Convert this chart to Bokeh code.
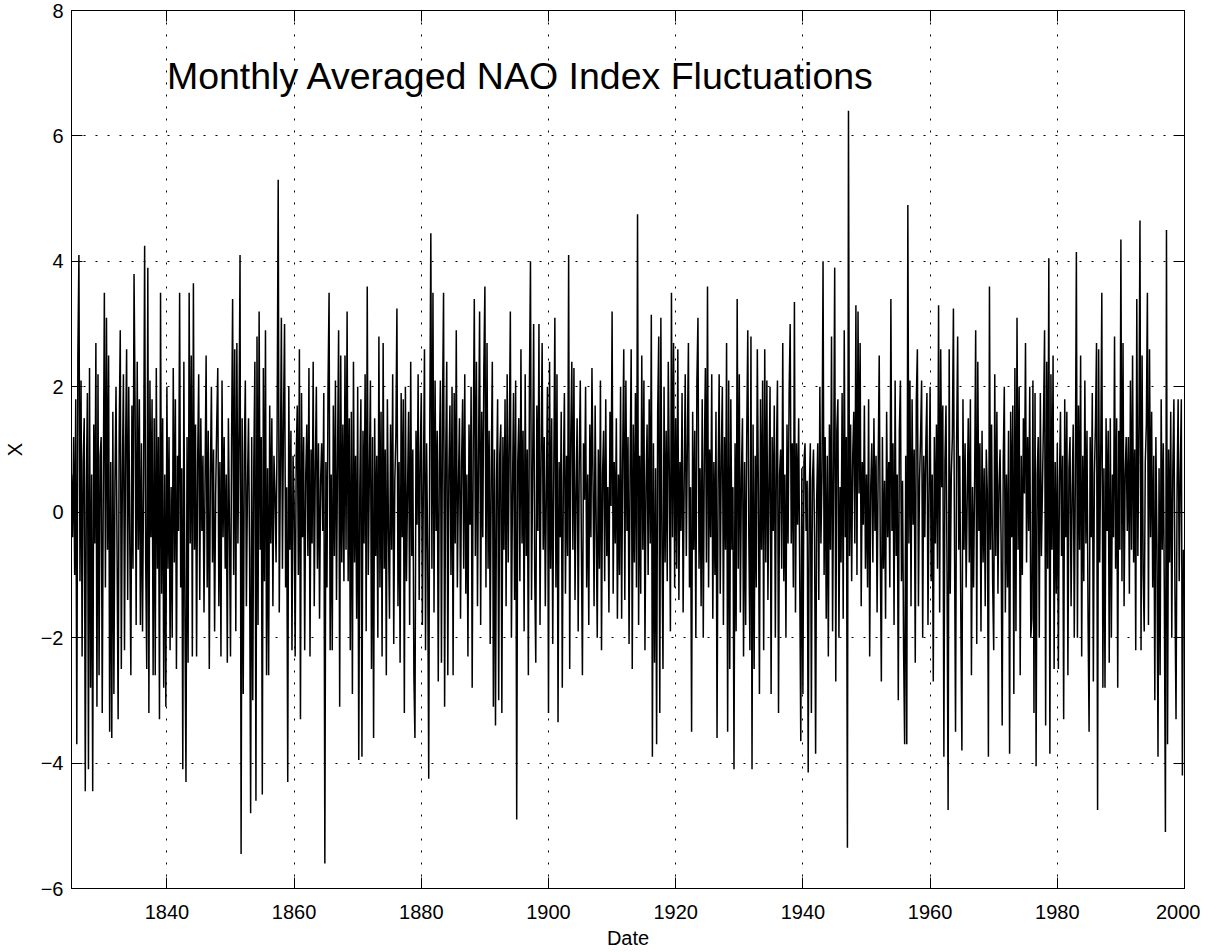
from bokeh.plotting import figure
from bokeh.models import LinearAxis, FixedTicker, Label, ColumnDataSource, Range1d
from bokeh.embed import file_html
from bokeh.resources import INLINE

# Monthly averaged NAO index (6 samples per year)
nao_1825 = [0.6, -0.4, 1.2, -1.0, 1.8, -3.7,
            2.5, 4.1, -1.1, 2.1, -2.3, 0.8,
            1.5, -4.45, 0.4, 1.9, -4.1, 2.3,
            -2.8, 0.6, -4.45, 1.4, -0.5, 2.7,
            -3.1, 2.2, -2.6, 0.9, 1.2, -3.2,
            0.4, 3.5, -1.2, 3.1, -0.6, 2.5,
            -3.5, 0.8, -3.6, 1.6, -2.9, 0.5,
            2.0, -0.7, -3.3, 1.3, 2.9, -2.5,
            0.6, 2.2, -2.2, 1.0, 2.6, -1.4,
            2.0, -0.5, -2.6, 1.7, -0.9, 3.8]
nao_1835 = [1.7, -1.8, 2.4, -0.6, 1.8, -1.8,
            1.1, -1.9, 0.5, 4.25, -0.8, -2.5,
            3.9, -3.2, 2.1, -0.4, 1.8, -2.6,
            1.5, -2.6, 2.3, -0.9, 1.2, -3.3,
            3.5, -1.3, 1.5, -2.8, 0.6, -3.1,
            2.0, -0.9, 1.2, -2.2, 0.4, -2.0,
            2.3, -0.8, 1.8, -2.5, 0.9, -0.3,
            3.5, -1.2, 0.7, -4.1, 2.4, -1.6,
            -4.3, 1.2, -2.4, 3.5, -0.5, 2.5,
            -2.3, 3.65, -0.6, 1.4, -2.3, 0.8]
nao_1845 = [2.2, -1.4, 1.5, -0.3, 0.9, -1.6,
            0.5, 2.5, -1.2, 1.3, -2.5, 0.6,
            2.0, -0.8, 1.0, -1.9, 0.3, 1.4,
            2.3, -1.5, 0.8, -2.3, 2.1, -0.4,
            1.2, -0.9, 0.6, -2.4, 1.5, -0.2,
            -2.3, 1.1, 3.4, -1.0, 2.6, -1.9,
            2.7, -0.5, 1.3, 4.1, -5.45, 1.5,
            -2.9, 0.9, 2.1, -1.5, 0.4, 1.5,
            -0.7, -4.8, 1.2, -3.0, 0.8, 2.4,
            -4.6, 2.8, -1.8, 3.2, -0.6, 1.2]
nao_1855 = [-4.5, 2.3, -1.1, 2.9, -2.6, 0.7,
            -2.6, 1.7, -0.5, 1.5, -1.5, 0.9,
            0.3, -0.8, 1.4, 5.3, -1.6, 0.6,
            3.1, -0.9, 1.5, 3.0, -1.2, 0.4,
            -4.3, 2.0, -0.6, 1.3, -2.2, 0.9,
            0.2, -2.3, 0.9, 1.7, -1.0, 2.6,
            -3.3, 1.9, -0.4, 1.2, -2.2, 0.6,
            1.4, -0.7, 2.3, -2.3, 1.0, -0.5,
            2.4, -1.5, 0.7, 2.0, -0.9, 1.1,
            -1.7, 0.5, 1.1, -0.3, 1.9, -5.6]
nao_1865 = [0.8, -1.2, 2.0, 3.5, -2.2, 0.6,
            -2.2, 1.7, -0.7, 2.1, -1.4, 0.9,
            2.9, -3.1, 2.5, -0.8, 1.4, -1.1,
            2.5, -0.6, 3.2, -1.1, 1.5, -2.2,
            1.6, -2.9, 2.4, -0.8, 0.9, -1.7,
            2.0, -3.95, 0.4, 1.8, -3.9, 1.3,
            -0.5, 2.2, -1.9, 3.6, -1.0, 0.6,
            2.1, -2.5, 1.2, -3.6, 1.5, -0.7,
            0.9, -2.0, 2.8, -1.2, 1.6, -2.3,
            2.7, -0.9, 1.0, -2.6, 1.8, -0.3]
nao_1875 = [-1.7, 1.4, -0.6, 2.2, -2.1, 0.5,
            1.2, 3.25, -1.5, 0.8, -2.4, 1.9,
            -0.4, 1.8, -3.2, 2.0, -1.1, 0.3,
            1.6, -1.8, 2.4, -0.7, 1.0, -2.6,
            -3.6, 1.3, -0.2, 2.2, -1.4, 0.9,
            1.9, -1.8, 0.5, 2.6, -2.2, 1.1,
            -0.6, -4.25, 1.4, 4.45, -0.9, 3.5,
            -1.6, 2.1, -0.3, 1.3, -2.7, 0.8,
            2.1, -2.4, 1.6, 3.5, -3.1, 0.8,
            2.4, -2.6, 0.6, 1.7, -1.0, 2.0]
nao_1885 = [-2.6, 1.9, -0.5, 2.9, -1.2, 0.4,
            1.5, -1.7, 0.8, 1.8, -0.9, 2.2,
            -1.3, 0.6, -2.3, 1.4, -0.2, 2.0,
            -2.8, 1.1, 3.4, -0.7, 2.4, -1.5,
            0.9, 3.2, -1.8, 1.6, -0.4, 2.3,
            3.6, -1.2, 2.7, -0.9, 1.3, -2.1,
            0.7, 2.4, -3.1, 1.0, -3.4, 0.5,
            1.8, -3.0, 0.9, 1.4, -3.2, 1.2,
            -0.6, 1.8, -1.5, 2.2, -0.8, 1.1,
            3.2, -2.0, 0.3, 1.9, -1.4, 2.1]
nao_1895 = [-4.9, 0.8, 1.5, -1.1, 2.6, -0.5,
            1.3, -1.9, 2.2, -0.7, 1.0, -2.6,
            2.0, 4.0, -1.4, 0.6, 3.0, -1.0,
            -2.4, 1.7, -0.3, 3.0, -1.8, 0.9,
            2.7, -0.6, 1.2, -1.5, 0.4, 2.0,
            -3.2, 2.4, -0.9, 1.5, -2.1, 0.7,
            3.1, -1.2, 2.2, -3.35, 0.8, -0.4,
            1.6, -2.8, 0.5, 1.9, -1.3, 0.9,
            -0.7, 4.1, -2.5, 1.2, 2.4, -0.6,
            2.3, -1.4, 0.3, 1.5, -1.9, 0.8]
nao_1905 = [2.1, -0.5, -2.6, 1.1, 0.2, 2.0,
            -1.2, 0.6, -1.8, 1.4, -0.4, 2.3,
            0.5, -1.5, 1.7, -0.2, -2.0, 1.0,
            -0.9, 2.1, -2.2, 0.6, 1.3, -1.1,
            1.8, -0.7, 0.4, -1.6, 1.6, 0.1,
            3.2, -1.3, 0.8, -0.5, 1.5, -1.7,
            0.6, -1.0, 2.0, -1.7, 0.9, 2.6,
            -1.4, 2.1, -0.3, 1.2, -2.1, 0.7,
            2.6, -2.5, 1.4, -0.8, 1.9, -1.2,
            4.75, -1.8, 0.9, -1.3, 2.5, -0.6]
nao_1915 = [2.1, -2.2, 0.4, 1.4, -1.0, 1.8,
            -0.5, 3.15, -3.9, 1.1, -2.4, 0.7,
            -3.7, 1.6, 2.8, -3.2, 3.1, -0.4,
            -2.5, 2.0, -0.8, 1.3, -1.1, 2.4,
            0.6, -1.9, 3.5, -0.4, 2.7, -1.2,
            1.5, -0.9, 2.6, -1.4, 0.8, -0.3,
            1.9, -1.6, 0.5, 2.2, -0.7, 1.1,
            2.7, -1.2, 0.4, -3.5, 1.6, -0.6,
            1.3, -2.0, 2.1, 3.1, -0.9, 0.7,
            -1.5, 1.8, -2.0, 0.9, 2.3, -0.8]
nao_1925 = [3.6, -1.2, 1.0, -0.4, 2.2, -1.7,
            0.8, -1.0, 1.6, -3.6, 0.5, 2.2,
            -1.3, 0.9, 2.0, -1.8, 1.2, -0.6,
            2.7, -3.5, 2.1, -2.5, 1.8, -0.6,
            0.4, -4.1, 1.1, -1.9, 3.4, -0.9,
            2.2, -1.6, 0.6, 1.5, -2.3, 0.8,
            -1.8, 1.2, 2.9, -0.4, -2.2, 2.8,
            -4.1, 1.4, -2.5, 0.9, -1.2, 2.6,
            0.3, -2.9, 1.8, -0.6, 2.1, -2.2,
            2.6, -0.8, 2.1, -1.4, 0.5, 2.0]
nao_1935 = [-2.9, 1.2, -0.3, 1.7, -2.0, 0.9,
            2.1, -3.2, 0.6, 1.0, -0.9, 2.7,
            -1.1, 0.6, -2.0, 1.4, -0.5, 1.9,
            3.0, -0.5, 1.1, -1.2, 3.35, -1.6,
            1.1, -0.2, 1.5, -1.0, -3.65, 0.7,
            -2.9, 0.8, 1.1, -0.3, 0.5, -4.15,
            0.3, 1.1, -3.2, 0.5, 1.0, -0.4,
            -3.85, 0.2, 1.1, -1.4, 2.0, -0.5,
            0.6, 4.0, -1.0, 1.2, -1.7, 0.9,
            -2.3, 1.4, -0.6, 2.8, -1.9, 0.7]
nao_1945 = [3.9, -2.7, 1.3, 1.8, -2.0, 0.4,
            -0.8, 1.9, -1.7, 2.9, -0.4, 1.2,
            -5.35, 6.4, -0.7, 1.4, -1.1, 0.9,
            1.6, -0.5, 3.3, -1.0, 3.2, 0.3,
            2.7, -1.5, 0.8, -0.2, 1.7, -0.9,
            0.6, -1.2, 1.8, -2.3, 0.4, 1.1,
            -0.8, 1.5, -0.3, 0.9, -1.6, 0.7,
            2.5, -0.6, -2.7, 1.2, -0.9, 0.5,
            -1.7, 1.6, -0.4, 0.8, -1.2, 3.4,
            -0.3, 1.1, -1.8, 2.1, -0.7, 0.6]
nao_1955 = [-3.0, 1.3, 2.1, -1.1, 0.5, -2.2,
            -3.7, 0.9, -3.7, 4.9, -0.5, 2.1,
            -1.5, 1.8, -0.2, 1.0, -2.4, 1.8,
            2.6, -1.5, 0.5, 1.2, 2.1, -2.0,
            0.9, -0.4, 1.1, 1.9, -1.8, 0.3,
            2.0, -1.1, 0.6, -2.7, 1.2, -0.5,
            1.4, -0.9, 3.3, -1.6, 2.6, 0.4,
            1.7, -3.9, 0.8, 1.7, -1.0, -4.75,
            2.6, -1.3, 0.6, 1.2, 3.25, -0.4,
            -3.5, 1.1, 2.8, -0.6, 0.9, -1.7]
nao_1965 = [-3.8, 1.8, -0.6, 1.1, -1.2, 0.2,
            1.5, -0.8, 1.8, -2.6, 0.4, -1.2,
            0.5, 2.9, -2.1, 2.4, -0.3, 1.1,
            -1.9, 1.3, -0.8, 0.7, -1.5, 1.0,
            0.3, -3.9, 3.6, -0.6, 1.4, -1.1,
            -2.2, 2.2, -0.7, 1.6, -1.3, 0.4,
            1.0, -0.5, -3.4, 0.8, 2.0, -1.6,
            0.6, -1.2, 1.3, -3.85, 1.6, -0.4,
            1.7, -2.9, 2.3, -1.9, 3.1, -0.6,
            2.0, -2.6, 0.9, -1.0, 1.5, 0.3]
nao_1975 = [2.7, -0.8, 1.2, -0.3, 2.0, -2.0,
            -1.7, 2.1, -3.2, 1.9, -4.05, 0.6,
            1.2, -2.0, 1.9, -0.7, 0.4, 1.5,
            2.9, -3.4, 2.4, -0.9, 4.05, -3.85,
            2.2, -0.6, 2.5, -2.5, 0.8, -1.3,
            1.1, -2.5, 0.5, 1.6, -0.7, 0.9,
            -3.3, 1.8, -0.4, 1.6, -2.6, 0.7,
            1.2, -1.5, 0.3, 1.4, -2.0, 0.5,
            4.15, -2.0, 1.7, -0.6, 2.5, -2.3,
            0.9, -1.1, 2.1, -0.5, 1.3, -1.7]
nao_1985 = [-3.5, 1.2, -0.4, 1.9, -2.7, 0.6,
            1.4, 2.7, -4.75, 2.6, -0.8, 1.0,
            3.5, -2.8, 0.7, -2.8, 1.5, -0.3,
            1.3, -2.4, 1.5, -2.0, 0.6, -0.4,
            2.8, -0.9, 1.5, -2.8, 1.3, -0.6,
            4.35, -1.1, 2.7, -1.5, 0.6, 1.2,
            -0.3, 1.2, -1.3, 2.1, -0.6, 2.5,
            -0.8, 1.0, -2.2, 3.4, -0.7, 1.3,
            4.65, -2.2, 2.5, -1.0, -1.9, 0.8,
            1.4, 3.5, -1.8, 2.6, -0.4, 1.6]
nao_1995 = [-1.2, 0.9, -3.0, 1.2, -0.5, -3.9,
            0.7, -2.6, 1.8, -0.6, 1.1, -1.4,
            -5.1, 4.5, -3.7, 1.0, -0.8, 1.6,
            -2.0, 0.7, 1.8, -1.3, -3.3, 0.4,
            1.8, -1.1, 0.6, 1.8, -4.2, -0.6]

decade_starts = [1825, 1835, 1845, 1855, 1865, 1875, 1885, 1895, 1905,
                 1915, 1925, 1935, 1945, 1955, 1965, 1975, 1985, 1995]
decade_values = [nao_1825, nao_1835, nao_1845, nao_1855, nao_1865, nao_1875,
                 nao_1885, nao_1895, nao_1905, nao_1915, nao_1925, nao_1935,
                 nao_1945, nao_1955, nao_1965, nao_1975, nao_1985, nao_1995]
samples_per_year = 6

x_ticks = [1840, 1860, 1880, 1900, 1920, 1940, 1960, 1980, 2000]
y_ticks = [-6, -4, -2, 0, 2, 4, 6, 8]
y_tick_labels = {-6: "\u22126", -4: "\u22124", -2: "\u22122", 0: "0", 2: "2", 4: "4", 6: "6", 8: "8"}
title_text = "Monthly Averaged NAO Index Fluctuations"

xs, ys = [], []
for start, vals in zip(decade_starts, decade_values):
    for i, v in enumerate(vals):
        xs.append(start + i / samples_per_year)
        ys.append(v)
src = ColumnDataSource(dict(x=xs, y=ys))

FONT = "Liberation Sans"

p = figure(width=1200, height=952, output_backend="svg", toolbar_location=None,
           x_range=Range1d(1825, 2000), y_range=Range1d(-6, 8),
           min_border_left=71, min_border_right=16, min_border_top=10, min_border_bottom=64,
           background_fill_color="white", border_fill_color="white")
p.outline_line_color = "black"
p.outline_line_width = 1

p.line("x", "y", source=src, line_color="black", line_width=1.5)

for ax in p.xaxis:
    ax.ticker = FixedTicker(ticks=x_ticks)
    ax.axis_label = "Date"
for ax in p.yaxis:
    ax.ticker = FixedTicker(ticks=y_ticks)
    ax.axis_label = "X"
    ax.major_label_overrides = y_tick_labels

for ax in p.axis:
    ax.major_tick_in = 11
    ax.major_tick_out = 0
    ax.minor_tick_line_color = None
    ax.axis_line_color = "black"
    ax.major_tick_line_color = "black"
    ax.major_label_text_font = FONT
    ax.major_label_text_font_size = "20px"
    ax.major_label_text_color = "black"
    ax.axis_label_text_font = FONT
    ax.axis_label_text_font_size = "20px"
    ax.axis_label_text_font_style = "normal"
    ax.axis_label_text_color = "black"

p.yaxis.major_label_standoff = 8
p.yaxis.axis_label_standoff = 12
p.xaxis.major_label_standoff = 16
p.xaxis.axis_label_standoff = 5

blank_y = {t: "" for t in y_ticks}
blank_x = {t: "" for t in x_ticks}
ax_r = LinearAxis(ticker=FixedTicker(ticks=y_ticks), major_label_overrides=blank_y,
                  major_label_text_font_size="1px",
                  major_tick_in=11, major_tick_out=0, minor_tick_line_color=None,
                  major_label_standoff=0, axis_line_color="black")
p.add_layout(ax_r, "right")
ax_t = LinearAxis(ticker=FixedTicker(ticks=x_ticks), major_label_overrides=blank_x,
                  major_label_text_font_size="1px",
                  major_tick_in=11, major_tick_out=0, minor_tick_line_color=None,
                  major_label_standoff=0, axis_line_color="black")
p.add_layout(ax_t, "above")

p.xgrid.ticker = FixedTicker(ticks=x_ticks)
p.ygrid.ticker = FixedTicker(ticks=y_ticks)
for g in (p.xgrid[0], p.ygrid[0]):
    g.grid_line_color = "black"
    g.grid_line_dash = "2 10"
    g.grid_line_width = 1

p.add_layout(Label(x=1840, y=6.96, text=title_text, text_font=FONT,
                   text_font_size="37.5px", text_color="black",
                   text_baseline="alphabetic", text_align="left"))

open("out.html", "w").write(file_html(p, INLINE))
